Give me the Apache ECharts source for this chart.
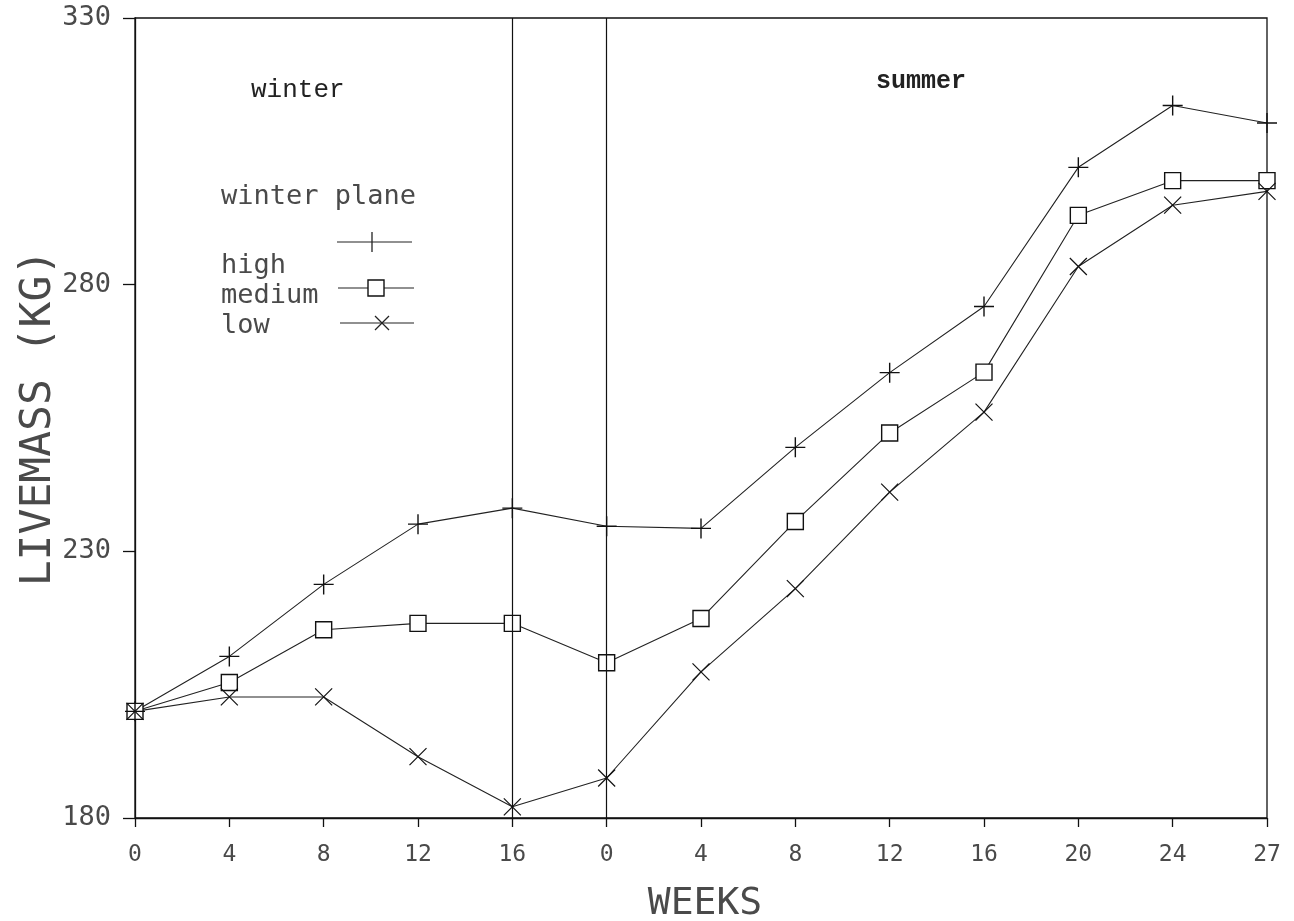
<!DOCTYPE html>
<html>
<head>
<meta charset="utf-8">
<script src="https://cdn.jsdelivr.net/npm/echarts@6/dist/echarts.min.js"></script>
<style>html,body{margin:0;padding:0;background:#fff;}#c{width:1294px;height:921px;}</style>
</head>
<body>
<div id="c"></div>
<script>
// Tick labels for the 13 equally spaced sampling positions (winter weeks, then summer weeks)
const weekLabels = ['0','4','8','12','16','0','4','8','12','16','20','24','27'];
// Livemass (kg) by winter plane of nutrition
const highValues   = [200, 210.3, 223.8, 235.1, 238.1, 234.7, 234.3, 249.5, 263.5, 275.9, 302.0, 313.6, 310.3];
const mediumValues = [200, 205.4, 215.3, 216.5, 216.5, 209.1, 217.4, 235.6, 252.2, 263.6, 293.0, 299.5, 299.5];
const lowValues    = [200, 202.7, 202.7, 191.5, 182.1, 187.5, 207.4, 223.0, 241.1, 256.1, 283.4, 294.9, 297.5];
const yTicks = [180, 230, 280, 330];
const seasonBoundaries = [4, 5];

const FONT = 'DejaVu Sans Mono';
const TXT = '#4a4a4a';
const PLUS = 'path://M0,-10L0,10M-10,0L10,0';
const CROSS = 'path://M-10,-10L10,10M-10,10L10,-10';

function pairs(arr){ return arr.map((v,i)=>[i,v]); }

const chart = echarts.init(document.getElementById('c'), null, {renderer:'canvas'});
const lineCommon = {
  type:'line',
  lineStyle:{color:'#222', width:1.1},
  animation:false,
  z:3
};
chart.setOption({
  backgroundColor:'#fff',
  animation:false,
  grid:{left:135, right:27, top:18, bottom:103, show:true, borderColor:'#111', borderWidth:1.3,
        backgroundColor:'transparent', containLabel:false, outerBoundsMode:'none'},
  xAxis:{
    type:'value', min:0, max:weekLabels.length-1, interval:1,
    name:'WEEKS', nameLocation:'middle', nameGap:67, nameMoveOverlap:false,
    nameTextStyle:{fontFamily:FONT, fontSize:38, color:TXT, padding:[0,0,0,8]},
    axisLine:{show:true, lineStyle:{color:'#111', width:1.3}},
    axisTick:{show:true, inside:false, length:9, lineStyle:{color:'#111', width:1.3}},
    axisLabel:{fontFamily:FONT, fontSize:23, color:TXT, margin:26, formatter:(v)=>weekLabels[v] ?? ''},
    splitLine:{show:false}
  },
  yAxis:{
    type:'value', min:yTicks[0], max:yTicks[yTicks.length-1], interval:50,
    name:'LIVEMASS (KG)', nameLocation:'middle', nameGap:75, nameRotate:90, nameMoveOverlap:false,
    nameTextStyle:{fontFamily:FONT, fontSize:43, color:TXT},
    axisLine:{show:true, lineStyle:{color:'#111', width:1.3}},
    axisTick:{show:true, inside:false, length:12, lineStyle:{color:'#111', width:1.3}},
    axisLabel:{fontFamily:FONT, fontSize:27, color:TXT, margin:24},
    splitLine:{show:false}
  },
  series:[
    Object.assign({}, lineCommon, {
      name:'medium', data:pairs(mediumValues),
      symbol:'rect', symbolSize:16,
      itemStyle:{color:'#fff', borderColor:'#111', borderWidth:1.4},
      markLine:{
        silent:true, symbol:'none', label:{show:false},
        lineStyle:{color:'#111', width:1.2, type:'solid'},
        data: seasonBoundaries.map(x=>({xAxis:x}))
      }
    }),
    Object.assign({}, lineCommon, {
      name:'high', data:pairs(highValues),
      symbol:PLUS, symbolSize:20,
      itemStyle:{color:'none', borderColor:'#111', borderWidth:1.4}
    }),
    Object.assign({}, lineCommon, {
      name:'low', data:pairs(lowValues),
      symbol:CROSS, symbolSize:17,
      itemStyle:{color:'none', borderColor:'#111', borderWidth:1.2}
    })
  ],
  graphic:[
    {type:'text', left:251, top:77, style:{text:'winter', font:'26px "Liberation Mono"', fill:'#222'}},
    {type:'text', left:876, top:69, style:{text:'summer', font:'bold 25px "Liberation Mono"', fill:'#222'}},
    {type:'text', left:221, top:183, style:{text:'winter plane', font:'27px "DejaVu Sans Mono"', fill:TXT}},
    {type:'text', left:221, top:252, style:{text:'high', font:'27px "DejaVu Sans Mono"', fill:TXT}},
    {type:'text', left:221, top:282, style:{text:'medium', font:'27px "DejaVu Sans Mono"', fill:TXT}},
    {type:'text', left:221, top:312, style:{text:'low', font:'27px "DejaVu Sans Mono"', fill:TXT}},
    {type:'line', shape:{x1:337, y1:242, x2:412, y2:242}, style:{stroke:'#222', lineWidth:1.2}},
    {type:'line', shape:{x1:372, y1:232, x2:372, y2:252}, style:{stroke:'#222', lineWidth:1.3}},
    {type:'line', shape:{x1:338, y1:288, x2:414, y2:288}, style:{stroke:'#222', lineWidth:1.2}},
    {type:'rect', shape:{x:368, y:280, width:16, height:16}, style:{fill:'#fff', stroke:'#111', lineWidth:1.4}},
    {type:'line', shape:{x1:340, y1:323, x2:414, y2:323}, style:{stroke:'#222', lineWidth:1.2}},
    {type:'line', shape:{x1:375, y1:316, x2:389, y2:330}, style:{stroke:'#222', lineWidth:1.2}},
    {type:'line', shape:{x1:375, y1:330, x2:389, y2:316}, style:{stroke:'#222', lineWidth:1.2}}
  ]
});
</script>
</body>
</html>
